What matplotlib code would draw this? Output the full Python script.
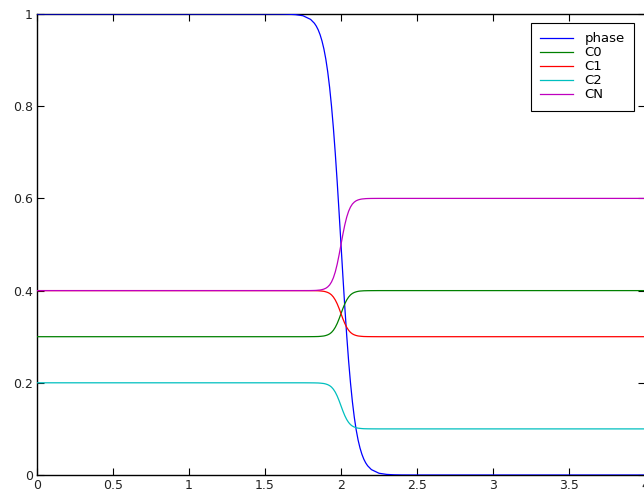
import matplotlib
matplotlib.use("Agg")
from matplotlib import pyplot as plt

# profiles (sharp interface near x = 2)
x = [0, 1.5, 1.6, 1.65, 1.7, 1.75, 1.8,
     1.825, 1.8375, 1.85, 1.8625, 1.875, 1.8875, 1.9, 1.9125, 1.925, 1.9375,
     1.95, 1.9625, 1.975, 1.9875, 2.0, 2.0125, 2.025, 2.0375, 2.05, 2.0625,
     2.075, 2.0875, 2.1, 2.1125, 2.125, 2.1375, 2.15, 2.1625, 2.175,
     2.2, 2.25, 2.3, 2.35, 2.4, 2.5, 4.0]

phase = [1.0, 1.0, 0.9999, 0.9996, 0.9987, 0.9962, 0.9883,
         0.9799, 0.9737, 0.9656, 0.9550, 0.9414, 0.9242, 0.9023, 0.8749, 0.8411, 0.8003,
         0.7524, 0.6971, 0.6355, 0.5690, 0.5, 0.4310, 0.3645, 0.3029, 0.2476, 0.1997,
         0.1589, 0.1251, 0.0977, 0.0758, 0.0586, 0.0450, 0.0344, 0.0263, 0.0201,
         0.0117, 0.0038, 0.0013, 0.0004, 0.0001, 0.0, 0.0]

c0 = [0.3, 0.3, 0.3, 0.3, 0.3, 0.3, 0.3001,
      0.3002, 0.3003, 0.3004, 0.3007, 0.3011, 0.3016, 0.3026, 0.3040, 0.3061, 0.3093,
      0.3140, 0.3204, 0.3287, 0.3388, 0.35, 0.3612, 0.3713, 0.3796, 0.3860, 0.3907,
      0.3939, 0.3960, 0.3974, 0.3984, 0.3990, 0.3993, 0.3996, 0.3997, 0.3998,
      0.3999, 0.4, 0.4, 0.4, 0.4, 0.4, 0.4]

c1 = [0.4, 0.4, 0.4, 0.4, 0.4, 0.4, 0.3999,
      0.3998, 0.3997, 0.3996, 0.3993, 0.3989, 0.3984, 0.3974, 0.3960, 0.3939, 0.3907,
      0.3860, 0.3796, 0.3713, 0.3612, 0.35, 0.3388, 0.3287, 0.3204, 0.3140, 0.3093,
      0.3061, 0.3040, 0.3026, 0.3016, 0.3011, 0.3007, 0.3004, 0.3003, 0.3002,
      0.3001, 0.3, 0.3, 0.3, 0.3, 0.3, 0.3]

c2 = [0.2, 0.2, 0.2, 0.2, 0.2, 0.2, 0.1999,
      0.1998, 0.1997, 0.1996, 0.1993, 0.1989, 0.1984, 0.1974, 0.1960, 0.1939, 0.1907,
      0.1860, 0.1796, 0.1713, 0.1612, 0.15, 0.1388, 0.1287, 0.1204, 0.1140, 0.1093,
      0.1061, 0.1040, 0.1026, 0.1016, 0.1011, 0.1007, 0.1004, 0.1003, 0.1002,
      0.1001, 0.1, 0.1, 0.1, 0.1, 0.1, 0.1]

cn = [0.4, 0.4, 0.4, 0.4, 0.4, 0.4, 0.4001,
      0.4003, 0.4005, 0.4009, 0.4013, 0.4021, 0.4033, 0.4051, 0.4080, 0.4122, 0.4187,
      0.4279, 0.4407, 0.4574, 0.4777, 0.5, 0.5223, 0.5426, 0.5593, 0.5721, 0.5813,
      0.5878, 0.5920, 0.5949, 0.5967, 0.5979, 0.5987, 0.5991, 0.5995, 0.5997,
      0.5999, 0.6, 0.6, 0.6, 0.6, 0.6, 0.6]

labels = ["phase", "C0", "C1", "C2", "CN"]
colors = [(0, 0, 1), (0, 0.5, 0), (1, 0, 0), (0, 0.75, 0.75), (0.75, 0, 0.75)]

xticks = [0, 0.5, 1, 1.5, 2, 2.5, 3, 3.5, 4]
xticklabels = ["0", "0.5", "1", "1.5", "2", "2.5", "3", "3.5", "4"]
yticks = [0, 0.2, 0.4, 0.6, 0.8, 1]
yticklabels = ["0", "0.2", "0.4", "0.6", "0.8", "1"]

fig = plt.figure(figsize=(6.44, 5.01), dpi=100)
ax = fig.add_axes([37 / 644, 26 / 501, 608 / 644, 461 / 501])

for series, lab, col in zip([phase, c0, c1, c2, cn], labels, colors):
    ax.plot(x, series, color=col, lw=0.9, label=lab, zorder=3)

ax.set_xlim(0, 4)
ax.set_ylim(0, 1)
ax.set_xticks(xticks)
ax.set_xticklabels(xticklabels)
ax.set_yticks(yticks)
ax.set_yticklabels(yticklabels)
ax.tick_params(direction="in", length=5, width=0.8, labelsize=9, top=True, right=True,
               labelcolor="#222222", pad=3)
for sp in ax.spines.values():
    sp.set_linewidth(1.0)

leg = ax.legend(loc="upper right", bbox_to_anchor=(0.982, 0.9805), borderaxespad=0,
                fontsize=9.5, fancybox=False, framealpha=1,
                edgecolor="black", handlelength=2.5, labelspacing=0.08,
                borderpad=0.7, handletextpad=0.85)
leg.get_frame().set_linewidth(0.8)

fig.savefig("out.png", dpi=100)
